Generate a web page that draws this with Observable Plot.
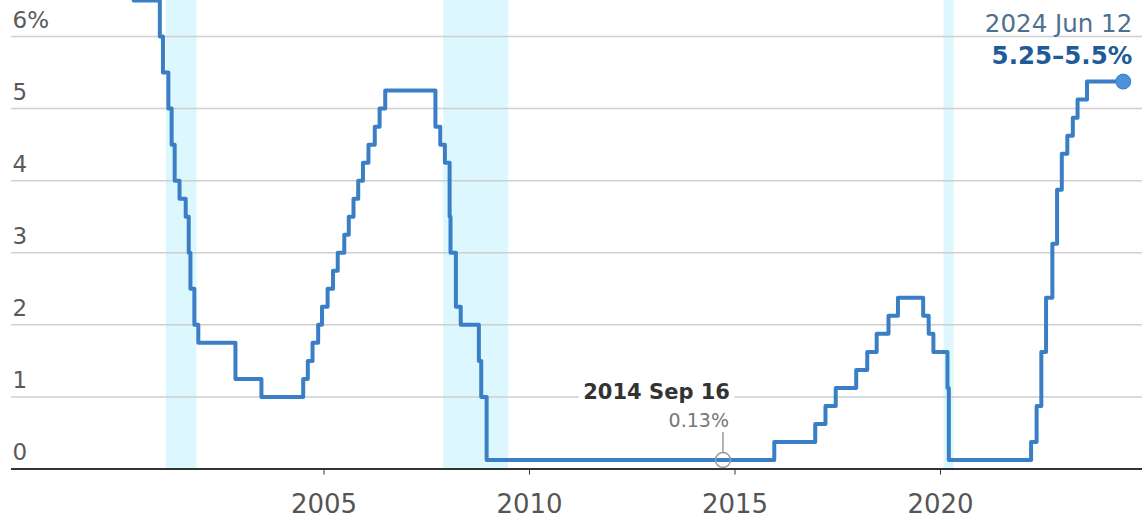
<!DOCTYPE html>
<html>
<head>
<meta charset="utf-8">
<script src="https://cdn.jsdelivr.net/npm/d3@7"></script>
<script src="https://cdn.jsdelivr.net/npm/@observablehq/plot@0.6"></script>
<style>
  html, body { margin: 0; padding: 0; background: #fff; }
  #chart svg { display: block; overflow: visible; }
</style>
</head>
<body>
<div id="chart"></div>
<script>
// Fed funds target rate (midpoint of range after Dec 2008), step changes
const rateDates = [
  "2000-05-16","2001-01-03","2001-01-31","2001-03-20","2001-04-18","2001-05-15","2001-06-27",
  "2001-08-21","2001-09-17","2001-10-02","2001-11-06","2001-12-11","2002-11-06","2003-06-25",
  "2004-06-30","2004-08-10","2004-09-21","2004-11-10","2004-12-14","2005-02-02","2005-03-22",
  "2005-05-03","2005-06-30","2005-08-09","2005-09-20","2005-11-01","2005-12-13","2006-01-31",
  "2006-03-28","2006-05-10","2006-06-29","2007-09-18","2007-10-31","2007-12-11","2008-01-22",
  "2008-01-30","2008-03-18","2008-04-30","2008-10-08","2008-10-29","2008-12-16","2015-12-16",
  "2016-12-14","2017-03-15","2017-06-14","2017-12-13","2018-03-21","2018-06-13","2018-09-26",
  "2018-12-19","2019-07-31","2019-09-18","2019-10-30","2020-03-03","2020-03-15","2022-03-16",
  "2022-05-04","2022-06-15","2022-07-27","2022-09-21","2022-11-02","2022-12-14","2023-02-01",
  "2023-03-22","2023-05-03","2023-07-26","2024-06-12"
];
const rateValues = [
  6.5,6.0,5.5,5.0,4.5,4.0,3.75,
  3.5,3.0,2.5,2.0,1.75,1.25,1.0,
  1.25,1.5,1.75,2.0,2.25,2.5,2.75,
  3.0,3.25,3.5,3.75,4.0,4.25,4.5,
  4.75,5.0,5.25,4.75,4.5,4.25,3.5,
  3.0,2.25,2.0,1.5,1.0,0.125,0.375,
  0.625,0.875,1.125,1.375,1.625,1.875,2.125,
  2.375,2.125,1.875,1.625,1.125,0.125,0.375,
  0.875,1.625,2.375,3.125,3.875,4.375,4.625,
  4.875,5.125,5.375,5.375
];

// Recessions (shaded)
const recessionStart = ["2001-03-01","2007-12-01","2020-02-01"];
const recessionEnd   = ["2001-11-30","2009-06-30","2020-04-30"];

// Axis ticks
const yTicks = [0,1,2,3,4,5,6];
const yTickLabels = ["0","1","2","3","4","5","6%"];
const xTickYears = [2005,2010,2015,2020];

// Annotations
const lowDate = "2014-09-16", lowValue = 0.125, lowTitle = "2014 Sep 16", lowLabel = "0.13%";
const endTitle = "2024 Jun 12", endLabel = "5.25\u20135.5%";

const parse = d3.utcParse("%Y-%m-%d");
const series = rateDates.map((d, i) => ({date: parse(d), rate: rateValues[i]}));
const recessions = recessionStart.map((s, i) => ({start: parse(s), end: parse(recessionEnd[i])}));
const yLabels = yTicks.map((v, i) => ({v, label: yTickLabels[i]}));
const lowPoint = [{date: parse(lowDate), rate: lowValue}];
const endPoint = [series[series.length - 1]];

const FONT = "DejaVu Sans";
const LINE = "#3a7fc5";

const chart = Plot.plot({
  width: 1142,
  height: 519,
  marginTop: 0,
  marginBottom: 50.5,
  marginLeft: 11,
  marginRight: 0,
  style: {fontFamily: FONT, background: "#fff", overflow: "visible"},
  x: {type: "utc", domain: [parse("1997-05-26"), parse("2024-11-30")]},
  y: {domain: [0, 6.5], axis: null},
  marks: [
    Plot.rect(recessions, {x1: "start", x2: "end", fill: "#dcf7fd"}),
    Plot.ruleY(yTicks.filter(v => v > 0), {stroke: "#cfcfcf", strokeWidth: 1.5}),
    Plot.text(yLabels, {
      y: "v", text: "label", frameAnchor: "left", textAnchor: "start", lineAnchor: "bottom",
      dx: 1, dy: -9, fontSize: 23, fill: "#5a5a5a"
    }),
    Plot.line(series, {x: "date", y: "rate", curve: "step-after", stroke: LINE, strokeWidth: 4}),
    Plot.ruleY([0], {stroke: "#333", strokeWidth: 2}),
    Plot.axisX({
      ticks: xTickYears.map(y => new Date(Date.UTC(y, 0, 1))),
      tickFormat: d3.utcFormat("%Y"),
      tickSize: 6, tickPadding: 20, stroke: "#333",
      fontSize: 26, fill: "#555", label: null,
      style: {letterSpacing: "1.5px"}
    }),
    // low annotation
    Plot.ruleX(lowPoint, {x: "date", y1: "rate", y2: "rate", insetTop: -27.5, insetBottom: 7.5, stroke: "#999", strokeWidth: 1.5}),
    Plot.dot(lowPoint, {x: "date", y: "rate", r: 7.5, stroke: "#999", strokeWidth: 1.5, fill: "none"}),
    Plot.text(lowPoint, {
      x: "date", y: "rate", text: () => lowTitle, textAnchor: "end", lineAnchor: "bottom",
      dx: 7, dy: -60.5, fontSize: 21, fontWeight: "bold", fill: "#333",
      stroke: "white", strokeWidth: 12
    }),
    Plot.text(lowPoint, {
      x: "date", y: "rate", text: () => lowLabel, textAnchor: "end", lineAnchor: "bottom",
      dx: 6, dy: -32.5, fontSize: 19, fill: "#777"
    }),
    // end annotation
    Plot.dot(endPoint, {x: "date", y: "rate", r: 7.5, fill: "#4d91d8", stroke: "#3a7fc5", strokeWidth: 1}),
    Plot.text(endPoint, {
      x: "date", y: "rate", text: () => endTitle, textAnchor: "end", lineAnchor: "bottom",
      dx: 9, dy: -50, fontSize: 24.5, fill: "#4f6f8f", style: {letterSpacing: "1px"}
    }),
    Plot.text(endPoint, {
      x: "date", y: "rate", text: () => endLabel, textAnchor: "end", lineAnchor: "bottom",
      dx: 9, dy: -18, fontSize: 24.5, fontWeight: "bold", fill: "#1f5b99"
    })
  ]
});
document.getElementById("chart").appendChild(chart);
</script>
</body>
</html>
